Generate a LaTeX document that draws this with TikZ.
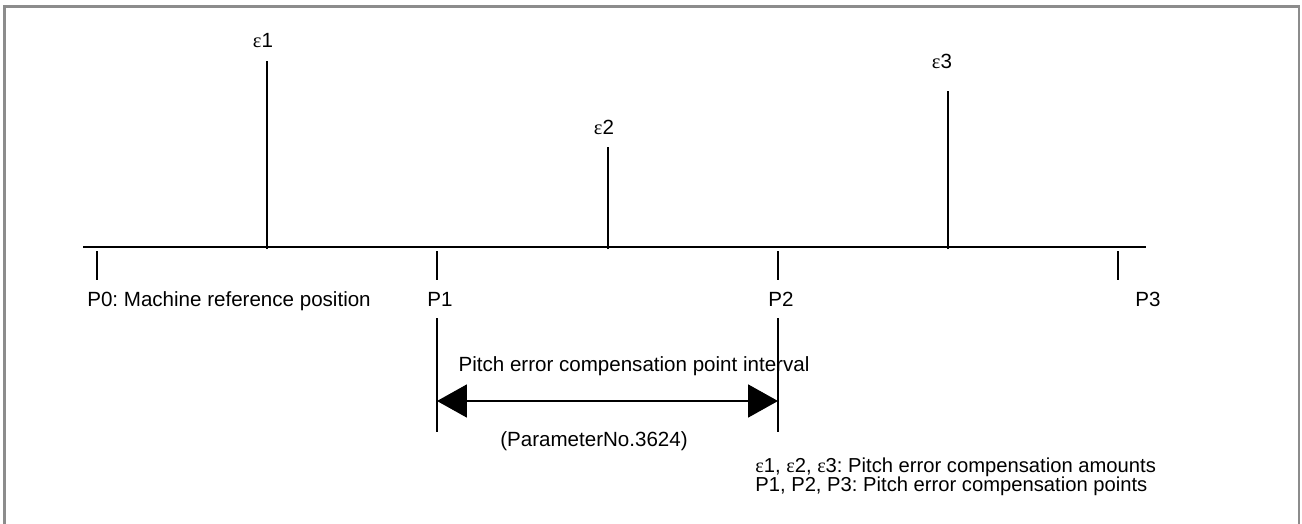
\documentclass[tikz,border=0pt]{standalone}
\usepackage{fontspec}
\setmainfont{Liberation Sans}
\newfontfamily\grk{Liberation Serif}
\usetikzlibrary{arrows.meta}
\newcommand{\eps}{{\grk ε}}
\frenchspacing
\begin{document}
\begin{tikzpicture}[x=0.02cm,y=-0.02cm,font=\fontsize{11.7}{14}\selectfont,
  axis/.style={line width=1.1pt},
  lbl/.style={anchor=base,inner sep=0pt},
  bigtip/.style={{Triangle[length=0.6cm,width=0.66cm]}-{Triangle[length=0.6cm,width=0.66cm]}}]
\useasboundingbox (0,0) rectangle (1302,524);
% frame, open at the bottom
\draw[black!45,line width=1.6pt] (4.5,524) -- (4.5,6.5) -- (1299,6.5) -- (1299,524);

% axis
\coordinate (left) at (83,247);
\coordinate (right) at (1146,247);
\draw[axis] (left) -- (right);

% compensation points
\foreach \name/\x in {p0/97,p1/437,p2/778,p3/1118} {
  \coordinate (\name) at (\x,251);
  \draw[axis] (\name) -- ++(0,29);
}
\node[lbl,anchor=base west] (lp0) at (87,306) {P0: Machine reference position};
\node[lbl] (lp1) at (440,306) {P1};
\node[lbl] (lp2) at (781,306) {P2};
\node[lbl] (lp3) at (1148,306) {P3};

% compensation amounts
\foreach \name/\x/\top in {e1/267/61,e2/608/147,e3/948/91} {
  \coordinate (\name) at (\x,\top);
  \draw[axis] (\x,249) -- (\name);
}
\node[lbl] (le1) at (263,48) {\eps1};
\node[lbl] (le2) at (604,134) {\eps2};
\node[lbl] (le3) at (942,68) {\eps3};

% interval
\coordinate (i1) at (437,318);
\coordinate (i2) at (778,318);
\draw[axis] (i1) -- ++(0,114);
\draw[axis] (i2) -- ++(0,114);
\coordinate (a1) at (437,401);
\coordinate (a2) at (778,401);
\draw[axis,bigtip] (a1) -- (a2);
\node[lbl] (intv) at (634,371) {Pitch error compensation point interval};
\node[lbl] (param) at (594,446) {(ParameterNo.3624)};

% legend
\node[lbl,anchor=base west,font=\fontsize{11.5}{14}\selectfont] (leg1) at (755,472) {\eps1, \eps2, \eps3: Pitch error compensation amounts};
\node[lbl,anchor=base west,font=\fontsize{11.5}{14}\selectfont] (leg2) at (755,491) {P1, P2, P3: Pitch error compensation points};
\end{tikzpicture}
\end{document}
